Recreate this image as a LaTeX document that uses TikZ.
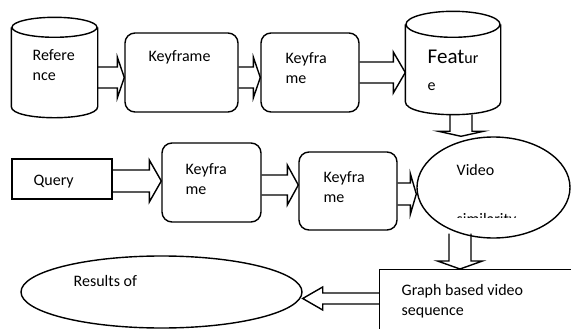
\documentclass[tikz,border=0pt]{standalone}
\usepackage{fontspec}
\setmainfont{Carlito}
\usetikzlibrary{calc}
\usetikzlibrary{shapes}
\usetikzlibrary{positioning}

\begin{document}
\begin{tikzpicture}[x=1pt,y=-1pt,line width=1.4pt,
        every node/.style={font=\fontsize{16}{20}\selectfont},
        box/.style={draw,rounded corners=10pt},
        body/.style={inner sep=0pt},
        txt/.style={anchor=west,align=left,inner sep=0pt},
        fat/.style n args={3}{to path={
            ($(\tikztostart)!#1!90:(\tikztotarget)$)
            -- ($(\tikztotarget)!#3!(\tikztostart)!#1!90:(\tikztotarget)$)
            -- ($(\tikztotarget)!#3!(\tikztostart)!#2!90:(\tikztotarget)$)
            -- (\tikztotarget)
            -- ($(\tikztotarget)!#3!(\tikztostart)!#2!-90:(\tikztotarget)$)
            -- ($(\tikztotarget)!#3!(\tikztostart)!#1!-90:(\tikztotarget)$)
            -- ($(\tikztostart)!#1!-90:(\tikztotarget)$)}}]

        \useasboundingbox (0,0) rectangle (571,329);
        \clip (0,0) rectangle (571,329);

        % cylinders
        \node[body,minimum width=85,minimum height=78] (ref) at (54.5,67) {};
        \draw (ref.north west) -- (ref.south west) .. controls +(0,14.7) and +(0,14.7) .. (ref.south east) -- (ref.north east);
        \draw (ref.north) ellipse [x radius=42.5,y radius=10];
        \node[body,minimum width=94,minimum height=76] (feat) at (453,63) {};
        \draw (feat.north west) -- (feat.south west) .. controls +(0,17.3) and +(0,17.3) .. (feat.south east) -- (feat.north east);
        \draw (feat.north) ellipse [x radius=47,y radius=13];
        \coordinate (feat-b) at ($(feat.south)+(8,13)$);

        \node[box,minimum width=113,minimum height=79] (kf1) at (181.5,72.5) {};
        \node[box,minimum width=98,minimum height=79] (kf2) at (310,72.5) {};

        \node[txt] (ref-t) at (32,65) {Refere\\nce};
        \node[txt] (kf1-t) at (148,57) {Keyframe};
        \node[txt] (kf2-t) at (285,68.5) {Keyfra\\me};
        \node[txt,font=\fontsize{16}{27}\selectfont] (feat-t) at (427,70) {{\fontsize{21}{27}\selectfont Feat}ur\\e};

        \draw[fat={10.5pt}{20.5pt}{7pt}] (ref.east |- 0,77.5) to (kf1.west |- 0,77.5);
        \draw[fat={10.5pt}{20.5pt}{7pt}] (kf1.east |- 0,77.5) to (kf2.west |- 0,77.5);
        \draw[fat={10.5pt}{20.5pt}{12pt}] (kf2.east |- 0,72.5) to (feat.west |- 0,72.5);

        \node[draw,minimum width=100,minimum height=40] (query) at (62,179) {};
        \node[box,minimum width=99,minimum height=79] (kf3) at (211.5,182.5) {};
        \node[box,minimum width=98,minimum height=78] (kf4) at (348,191) {};
        \node[draw,ellipse,minimum width=153,minimum height=101] (video) at (493.5,187.5) {};

        \node[txt] (query-t) at (33,182) {Query};
        \node[txt] (kf3-t) at (185,179) {Keyfra\\me};
        \node[txt] (kf4-t) at (323,187.5) {Keyfra\\me};
        \node[txt] (video-t) at (456,170) {Video};
        \begin{scope}
            \clip (440,200) rectangle (540,217);
            \node[txt,anchor=base west] (sim-t) at (456,224) {similarity};
        \end{scope}

        \draw[fat={11pt}{22.5pt}{5pt}] (feat-b) to (video.north -| feat-b);
        \draw[fat={11pt}{21pt}{12pt}] (query.east |- 0,181) to (kf3.west |- 0,181);
        \draw[fat={10pt}{20pt}{11pt}] (kf3.east |- 0,185) to (kf4.west |- 0,185);
        \draw[fat={11pt}{20.5pt}{6pt}] (kf4.east |- 0,194) to (video.west |- 0,194);

        \node[draw,minimum width=230,minimum height=100,anchor=north west] (graph) at (379,269) {};
        \node[draw,ellipse,minimum width=281,minimum height=72] (res) at (161.5,292) {};

        \node[txt] (graph-t) at (401,301.5) {Graph based video\\sequence};
        \node[txt] (res-t) at (73,281) {Results of};

        \draw[fat={11pt}{22.5pt}{8pt}] (video.234.6) to (graph.north -| video.234.6);
        \draw[fat={5.5pt}{11.5pt}{20pt}] (graph.west |- 0,298.5) to (res.east |- 0,298.5);

\end{tikzpicture}
\end{document}
